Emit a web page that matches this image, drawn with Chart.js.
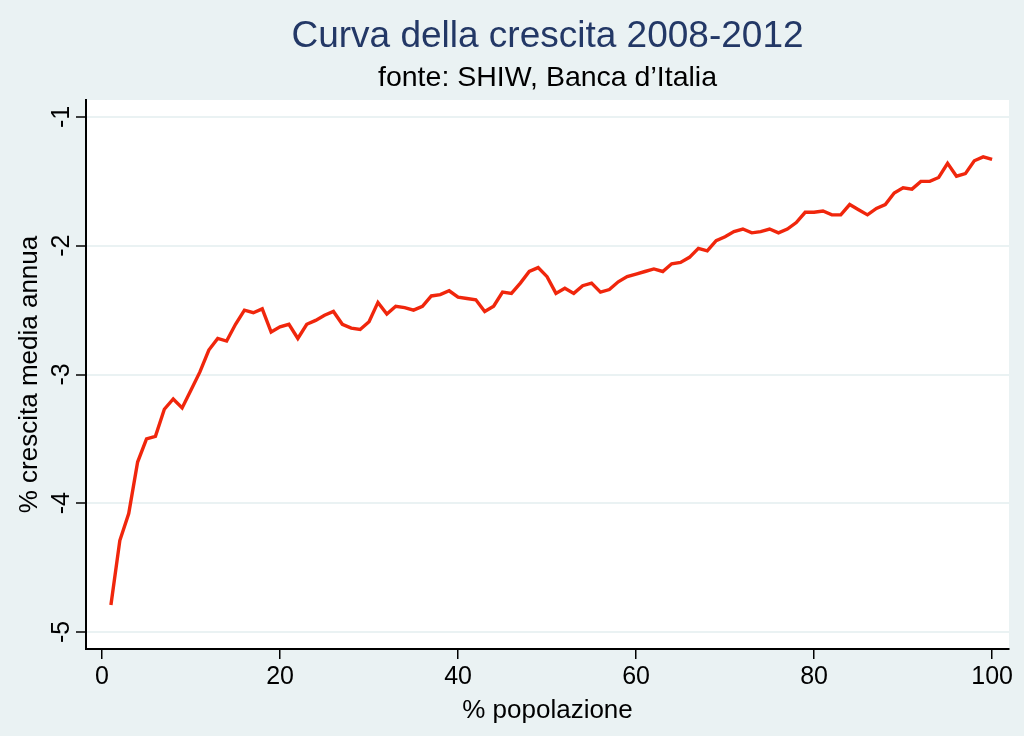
<!DOCTYPE html>
<html>
<head>
<meta charset="utf-8">
<title>Curva della crescita 2008-2012</title>
<script src="https://cdn.jsdelivr.net/npm/chart.js@4/dist/chart.umd.min.js"></script>
<style>
  html, body { margin: 0; padding: 0; background: #eaf2f3; }
  canvas { display: block; }
</style>
</head>
<body>
<canvas id="growthChart" width="1024" height="736"></canvas>
<script>
// % popolazione (percentili) e crescita media annua 2008-2012
const popolazione = [
  1, 2, 3, 4, 5, 6, 7, 8, 9, 10, 11, 12, 13, 14, 15, 16, 17, 18, 19, 20,
  21, 22, 23, 24, 25, 26, 27, 28, 29, 30, 31, 32, 33, 34, 35, 36, 37, 38, 39, 40,
  41, 42, 43, 44, 45, 46, 47, 48, 49, 50, 51, 52, 53, 54, 55, 56, 57, 58, 59, 60,
  61, 62, 63, 64, 65, 66, 67, 68, 69, 70, 71, 72, 73, 74, 75, 76, 77, 78, 79, 80,
  81, 82, 83, 84, 85, 86, 87, 88, 89, 90, 91, 92, 93, 94, 95, 96, 97, 98, 99, 100
];
const crescita = [
  -4.79, -4.29, -4.08, -3.68, -3.50, -3.48, -3.27, -3.19, -3.26, -3.12,
  -2.98, -2.81, -2.72, -2.74, -2.61, -2.50, -2.52, -2.49, -2.67, -2.63,
  -2.61, -2.72, -2.61, -2.58, -2.54, -2.51, -2.61, -2.64, -2.65, -2.59,
  -2.44, -2.53, -2.47, -2.48, -2.50, -2.47, -2.39, -2.38, -2.35, -2.40,
  -2.41, -2.42, -2.51, -2.47, -2.36, -2.37, -2.29, -2.20, -2.17, -2.24,
  -2.37, -2.33, -2.37, -2.31, -2.29, -2.36, -2.34, -2.28, -2.24, -2.22,
  -2.20, -2.18, -2.20, -2.14, -2.13, -2.09, -2.02, -2.04, -1.96, -1.93,
  -1.89, -1.87, -1.90, -1.89, -1.87, -1.90, -1.87, -1.82, -1.74, -1.74,
  -1.73, -1.76, -1.76, -1.68, -1.72, -1.76, -1.71, -1.68, -1.59, -1.55,
  -1.56, -1.50, -1.50, -1.47, -1.36, -1.46, -1.44, -1.34, -1.31, -1.33
];
const xTicks = [0, 20, 40, 60, 80, 100];
const yTicks = [-5, -4, -3, -2, -1];

const titolo = "Curva della crescita 2008-2012";
const fonte = "fonte: SHIW, Banca d\u2019Italia";

const FONT = "'Liberation Sans', Arial, Helvetica, sans-serif";

// stata-like background: grey-blue outside, white plot region
const plotBackground = {
  id: "plotBackground",
  beforeDraw(chart) {
    const { ctx, chartArea } = chart;
    ctx.save();
    ctx.fillStyle = "#eaf2f3";
    ctx.fillRect(0, 0, chart.width, chart.height);
    ctx.fillStyle = "#ffffff";
    ctx.fillRect(chartArea.left, chartArea.top, chartArea.right - chartArea.left, chartArea.bottom - chartArea.top);
    ctx.restore();
  },
};

const points = popolazione.map((p, i) => ({ x: p, y: crescita[i] }));

const ctx = document.getElementById("growthChart").getContext("2d");
const chart = new Chart(ctx, {
  type: "line",
  data: {
    datasets: [
      {
        label: "crescita",
        data: points,
        borderColor: "#f0260c",
        borderWidth: 3.4,
        pointRadius: 0,
        tension: 0,
        fill: false,
      },
    ],
  },
  options: {
    responsive: false,
    animation: false,
    layout: { padding: { top: 0, right: 15, left: 0, bottom: 0 } },
    plugins: {
      legend: { display: false },
      tooltip: { enabled: false },
      // fullSize false -> centred over the plot region, like the original
      title: {
        display: true,
        fullSize: false,
        text: titolo,
        color: "#233866",
        font: { family: FONT, size: 37, weight: "normal", lineHeight: 1.2 },
        padding: { top: 15, bottom: 0 },
      },
      subtitle: {
        display: true,
        fullSize: false,
        text: fonte,
        color: "#000000",
        font: { family: FONT, size: 28.5, weight: "normal", lineHeight: 1.2 },
        padding: { top: 2, bottom: 4.4 },
      },
    },
    scales: {
      x: {
        type: "linear",
        min: -1.8,
        max: 101.9,
        afterBuildTicks(scale) {
          scale.ticks = xTicks.map((v) => ({ value: v }));
        },
        afterFit(scale) {
          scale.height = 87;
          scale.paddingLeft = 0;
          scale.paddingRight = 0;
        },
        border: { display: true, color: "#000000", width: 2 },
        grid: {
          display: true,
          drawOnChartArea: false,
          color: "#000000",
          lineWidth: 1.5,
          tickLength: 10,
        },
        ticks: {
          color: "#000000",
          font: { family: FONT, size: 25 },
          padding: 3,
          maxRotation: 0,
          autoSkip: false,
        },
        title: {
          display: true,
          text: "% popolazione",
          color: "#000000",
          font: { family: FONT, size: 26 },
          padding: { top: 0, bottom: 10 },
        },
      },
      y: {
        type: "linear",
        min: -5.132,
        max: -0.868,
        afterBuildTicks(scale) {
          scale.ticks = yTicks.map((v) => ({ value: v }));
        },
        afterFit(scale) {
          scale.width = 86;
          scale.paddingTop = 0;
          scale.paddingBottom = 0;
        },
        border: { display: true, color: "#000000", width: 2 },
        grid: {
          display: true,
          color: "#eaf2f3",
          lineWidth: 2,
          tickColor: "#000000",
          tickWidth: 1.5,
          tickLength: 10,
        },
        ticks: {
          color: "#000000",
          font: { family: FONT, size: 25 },
          minRotation: 90,
          maxRotation: 90,
          crossAlign: "center",
          padding: 3,
          autoSkip: false,
        },
        title: {
          display: true,
          text: "% crescita media annua",
          color: "#000000",
          font: { family: FONT, size: 26 },
          padding: { top: 14, bottom: 0 },
        },
      },
    },
  },
  plugins: [plotBackground],
});
</script>
</body>
</html>
